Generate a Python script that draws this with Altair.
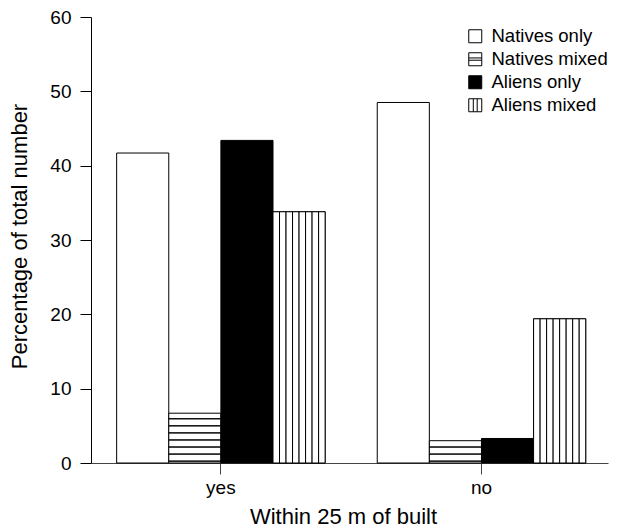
import altair as alt
import pandas as pd

GROUPS = ["yes", "no"]
SERIES = ["Natives only", "Natives mixed", "Aliens only", "Aliens mixed"]
YES_VALUES = [41.7, 6.7, 43.4, 33.8]
NO_VALUES = [48.5, 3.0, 3.3, 19.4]

# styling
FILLS = ["white", "white", "black", "white"]
SYMBOLS = [
    "M-1,-1H1V1H-1Z",
    "M-1,-1H1V1H-1Z M-1,-0.2H1 M-1,0.15H1",
    "M-1,-1H1V1H-1Z",
    "M-1,-1H1V1H-1Z M-0.3,-1V1 M0.3,-1V1",
]
HATCH_START = 0.25
HATCH_STEP = 0.95
N_SUB = 8
FONT = "Liberation Sans"

rows = []
for g, vals in zip(GROUPS, [YES_VALUES, NO_VALUES]):
    for s, v in zip(SERIES, vals):
        rows.append({"group": g, "series": s, "value": v,
                     "color": FILLS[SERIES.index(s)]})
df = pd.DataFrame(rows)

# horizontal hatch lines for "Natives mixed"
hrows = []
for r in rows:
    if r["series"] == "Natives mixed":
        lvl = HATCH_START
        while lvl < r["value"] - 0.3:
            hrows.append({"group": r["group"], "series": r["series"], "value": round(lvl, 3)})
            lvl += HATCH_STEP
hdf = pd.DataFrame(hrows)

# vertical hatch: sub-bars for "Aliens mixed"
SLOTS = [f"{s}|{k}" for s in SERIES for k in range(N_SUB)]
vrows = []
for r in rows:
    if r["series"] == "Aliens mixed":
        for k in range(N_SUB):
            vrows.append({"group": r["group"], "slot": f"{r['series']}|{k}", "value": r["value"]})
vdf = pd.DataFrame(vrows)

x_enc = alt.X(
    "group:N",
    scale=alt.Scale(domain=GROUPS, paddingInner=0.2, paddingOuter=0.092, align=0.535),
    axis=alt.Axis(
        title="Within 25 m of built", labelAngle=0, tickSize=11,
        labelPadding=19, labelBaseline="alphabetic",
        titleX=252, titleY=60, titleBaseline="alphabetic",
        domainColor="#444444", tickColor="#444444",
    ),
)
y_enc = alt.Y(
    "value:Q",
    scale=alt.Scale(domain=[0, 60], nice=False),
    axis=alt.Axis(
        title="Percentage of total number", values=[0, 10, 20, 30, 40, 50, 60],
        tickSize=11, labelPadding=9, grid=False,
        titleX=-60, titleY=219,
        domainColor="black", tickColor="black",
    ),
)
off_enc = alt.XOffset("series:N", scale=alt.Scale(domain=SERIES, paddingInner=0, paddingOuter=0))

bars = alt.Chart(df).mark_bar(stroke="black", strokeWidth=1).encode(
    x=x_enc, xOffset=off_enc, y=y_enc,
    fill=alt.Fill("color:N", scale=None),
)

vhatch = alt.Chart(vdf).mark_bar(fill="white", stroke="black", strokeWidth=1).encode(
    x=x_enc,
    xOffset=alt.XOffset("slot:N", scale=alt.Scale(domain=SLOTS, paddingInner=0, paddingOuter=0)),
    y=y_enc,
)

hhatch = alt.Chart(hdf).mark_bar(fill="white", stroke="black", strokeWidth=1).encode(
    x=x_enc, xOffset=off_enc, y=y_enc, y2=alt.Y2("value:Q"),
)

legend = alt.Legend(
    title=None, orient="none", legendX=375, legendY=10, padding=0,
    labelFontSize=18.5, labelFont=FONT, labelOffset=7, rowPadding=4,
    symbolSize=169, symbolStrokeColor="black", symbolStrokeWidth=1,
    symbolOpacity=1, labelColor="black", labelLimit=300,
)
points = alt.Chart(df).mark_point(filled=True, opacity=0, size=169,
                                  stroke="black", strokeWidth=1).encode(
    x=x_enc, xOffset=off_enc, y=y_enc,
    shape=alt.Shape("series:N", scale=alt.Scale(domain=SERIES, range=SYMBOLS), legend=legend),
    fill=alt.Fill("series:N", scale=alt.Scale(domain=SERIES, range=FILLS), legend=legend),
)

chart = alt.layer(bars, vhatch, hhatch, points).resolve_scale(
    xOffset="independent"
).properties(
    width=517, height=446,
    autosize=alt.AutoSizeParams(type="none"),
    padding={"left": 83, "top": 9, "right": 2, "bottom": 67},
    background="white",
).configure_view(stroke=None).configure_axis(
    labelFont=FONT, titleFont=FONT, labelFontSize=19, titleFontSize=22,
    labelColor="black", titleColor="black", titleFontWeight="normal",
)

chart.save("out.html", embed_options={"renderer": "svg", "actions": False})
